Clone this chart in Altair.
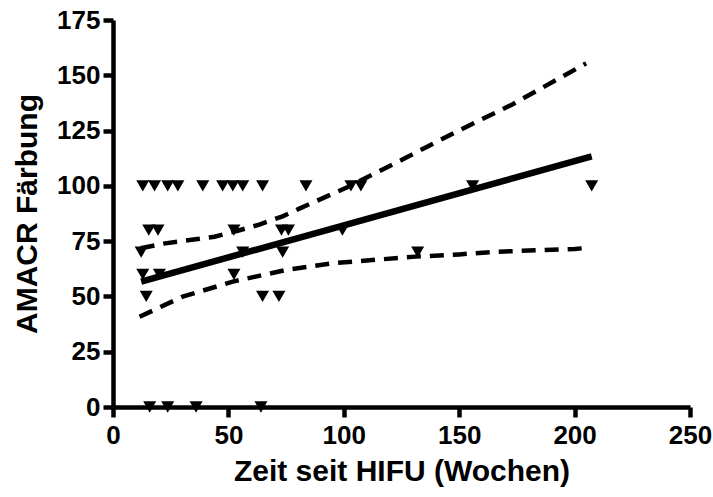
import altair as alt
import pandas as pd

# Scatter points: x positions (weeks) grouped by AMACR score
x_at_100 = [12.9, 18.0, 23.7, 28.1, 38.9, 47.5, 51.9, 56.2, 64.8, 83.6, 103.1, 107.4, 155.8, 207.4]
x_at_80 = [15.5, 19.5, 52.4, 73.0, 76.0, 99.4]
x_at_70 = [12.2, 56.2, 73.5, 132.0]
x_at_60 = [12.9, 20.1, 52.4]
x_at_50 = [14.4, 64.8, 71.9]
x_at_0 = [15.9, 23.7, 36.0, 64.1]

# Linear fit
fit_x = [12.2, 207.4]
fit_y = [56.7, 113.3]

# 95% confidence band edges
upper_x = [12.0, 22.6, 33.2, 44.0, 54.0, 63.4, 73.5, 81.0, 102.0, 125.0, 148.8, 172.6, 205.0]
upper_y = [71.8, 74.0, 75.5, 77.0, 79.7, 82.5, 86.2, 89.8, 99.6, 111.7, 124.5, 136.6, 155.4]
lower_x = [11.5, 30.2, 51.9, 75.0, 95.0, 131.0, 150.0, 166.0, 200.0, 204.0]
lower_y = [40.8, 49.9, 56.7, 62.0, 65.0, 68.0, 69.0, 70.2, 71.5, 71.8]

x_ticks = [0, 50, 100, 150, 200, 250]
y_ticks = [0, 25, 50, 75, 100, 125, 150, 175]

rows = []
for yv, xs in [(100, x_at_100), (80, x_at_80), (70, x_at_70), (60, x_at_60), (50, x_at_50), (0, x_at_0)]:
    for xv in xs:
        rows.append({"x": xv, "y": yv})
pts = pd.DataFrame(rows)
fit = pd.DataFrame({"x": fit_x, "y": fit_y})
up = pd.DataFrame({"x": upper_x, "y": upper_y})
lo = pd.DataFrame({"x": lower_x, "y": lower_y})

FONT = "Liberation Sans"

xscale = alt.Scale(domain=[0, 250], nice=False, zero=False)
yscale = alt.Scale(domain=[0, 175], nice=False, zero=False)

xaxis = alt.Axis(values=x_ticks, title="Zeit seit HIFU (Wochen)", grid=False,
                 domainColor="black", domainWidth=4.5, tickColor="black", tickWidth=4.5,
                 tickSize=10, labelFont=FONT, labelFontWeight="bold", labelFontSize=26,
                 labelColor="black", labelPadding=5, titleFont=FONT, titleFontWeight="bold",
                 titleFontSize=30, titleColor="black", titlePadding=8, labelFlush=False)
yaxis = alt.Axis(values=y_ticks, title="AMACR Färbung", grid=False,
                 domainColor="black", domainWidth=4.5, tickColor="black", tickWidth=4.5,
                 tickSize=10, labelFont=FONT, labelFontWeight="bold", labelFontSize=26,
                 labelColor="black", labelPadding=3, titleFont=FONT, titleFontWeight="bold",
                 titleFontSize=30, titleColor="black", titlePadding=14, labelFlush=False)

X = alt.X("x:Q", scale=xscale, axis=xaxis)
Y = alt.Y("y:Q", scale=yscale, axis=yaxis)

points = alt.Chart(pts).mark_point(shape="triangle-down", filled=True, color="black",
                                   size=170, opacity=1).encode(x=X, y=Y)
fit_line = alt.Chart(fit).mark_line(color="black", strokeWidth=6.5).encode(x="x:Q", y="y:Q")
up_line = alt.Chart(up).mark_line(color="black", strokeWidth=4.5, strokeDash=[14, 9],
                                  strokeCap="butt").encode(x="x:Q", y="y:Q")
lo_line = alt.Chart(lo).mark_line(color="black", strokeWidth=4.5, strokeDash=[14, 9],
                                  strokeCap="butt").encode(x="x:Q", y="y:Q")

chart = alt.layer(points, fit_line, up_line, lo_line).properties(
    width=577, height=387,
    autosize=alt.AutoSizeParams(type="none"),
    padding={"left": 113, "top": 20, "right": 23, "bottom": 90},
    background="white",
).configure_view(stroke=None)

chart.save("out.html", embed_options={"renderer": "svg", "actions": False})
